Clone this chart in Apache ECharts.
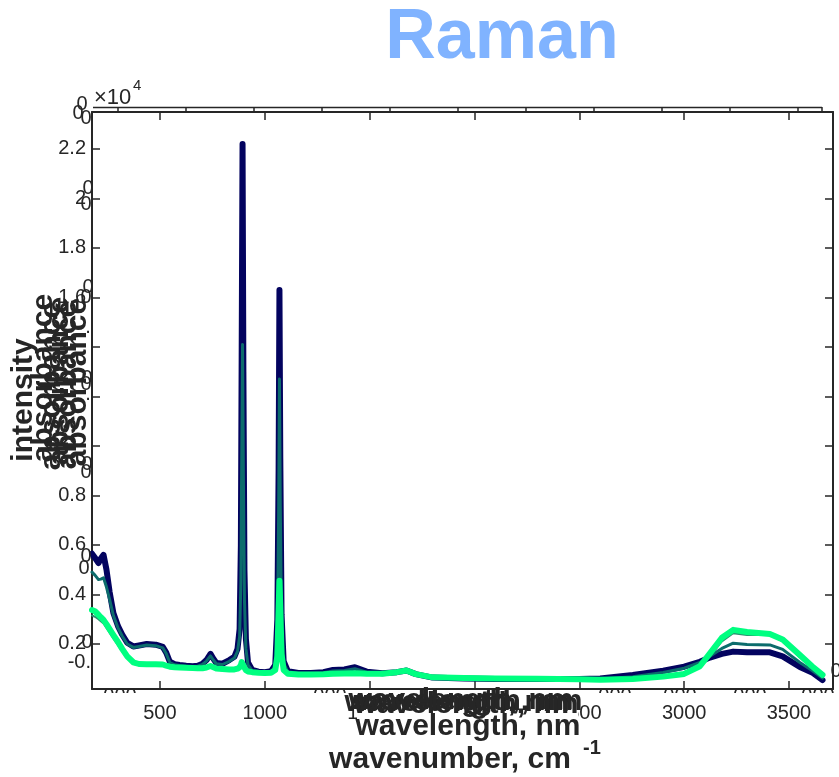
<!DOCTYPE html>
<html><head><meta charset="utf-8">
<script src="https://cdn.jsdelivr.net/npm/echarts@6/dist/echarts.min.js"></script>
<style>html,body{margin:0;padding:0;background:#fff}#c{width:839px;height:777px}</style>
</head><body><div id="c"></div>
<script>
// ---- data (wavenumber in cm^-1, intensity in counts) ----
const wavenumber = [176, 190, 207, 218, 231, 245, 260, 278, 300, 320,
  344, 373, 400, 437, 480, 514, 530, 547, 570, 594,
  625, 656, 680, 703, 722, 741, 755, 769, 798, 831,
  855, 870, 880, 886, 890, 894, 898, 903, 910, 920,
  940, 970, 1000, 1030, 1050, 1060, 1066, 1070, 1074, 1080,
  1090, 1110, 1160, 1220, 1280, 1325, 1380, 1430, 1486, 1560,
  1630, 1676, 1720, 1800, 1950, 2100, 2300, 2500, 2600, 2755,
  2900, 3000, 3075, 3123, 3180, 3234, 3300, 3409, 3470, 3552,
  3610, 3660];
const intensity1 = [5650, 5480, 5270, 5450, 5600, 5000, 4100, 3250, 2720, 2380,
  2050, 1900, 1940, 2000, 1970, 1880, 1650, 1280, 1180, 1150,
  1120, 1100, 1120, 1200, 1350, 1600, 1400, 1230, 1200, 1350,
  1480, 1800, 2600, 6000, 14000, 22200, 13000, 5000, 2200, 1250,
  950, 880, 860, 900, 1150, 3000, 9000, 16300, 9500, 3200,
  1300, 900, 830, 830, 860, 950, 970, 1060, 880, 820,
  860, 930, 780, 640, 600, 580, 580, 580, 600, 750,
  920, 1080, 1280, 1450, 1600, 1690, 1660, 1660, 1500, 1070,
  850, 540];
const intensity2 = [4900, 4780, 4600, 4620, 4670, 4300, 3800, 3150, 2650, 2320,
  2000, 1860, 1900, 1960, 1930, 1840, 1610, 1250, 1160, 1130,
  1100, 1080, 1100, 1170, 1310, 1520, 1350, 1200, 1170, 1300,
  1430, 1700, 2300, 4500, 9500, 14100, 8800, 3800, 1800, 1150,
  920, 860, 840, 880, 1080, 2500, 7200, 12700, 7600, 2700,
  1200, 880, 820, 820, 840, 910, 930, 1000, 860, 810,
  850, 920, 770, 630, 590, 580, 580, 570, 580, 680,
  850, 1020, 1250, 1500, 1820, 2030, 1980, 1960, 1780, 1250,
  930, 620];
const intensity3 = [3150, 3100, 3000, 2920, 2830, 2650, 2450, 2220, 1950, 1700,
  1420, 1200, 1140, 1130, 1130, 1130, 1080, 1030, 1010, 1000,
  990, 980, 970, 970, 1000, 1060, 1010, 960, 940, 920,
  920, 950, 1000, 1100, 1220, 1280, 1180, 1000, 900, 850,
  820, 800, 790, 800, 900, 1400, 3300, 4400, 3400, 1500,
  900, 760, 730, 730, 740, 760, 770, 780, 760, 760,
  820, 890, 740, 610, 580, 570, 560, 540, 520, 550,
  650, 760, 1050, 1500, 2100, 2430, 2360, 2360, 2100, 1450,
  1050, 700];
const intensity4 = [3370, 3320, 3180, 3080, 2970, 2800, 2600, 2360, 2080, 1800,
  1500, 1260, 1190, 1180, 1180, 1170, 1120, 1080, 1060, 1050,
  1040, 1030, 1020, 1020, 1050, 1110, 1060, 1010, 990, 970,
  970, 1000, 1060, 1150, 1270, 1330, 1230, 1050, 940, 890,
  860, 840, 830, 840, 950, 1500, 3400, 4550, 3500, 1600,
  950, 800, 770, 770, 780, 800, 810, 820, 800, 800,
  860, 930, 780, 650, 620, 600, 590, 570, 550, 580,
  680, 790, 1100, 1620, 2250, 2570, 2480, 2400, 2180, 1550,
  1100, 750];
const xTicks = [500, 1000, 1500, 2000, 2500, 3000, 3500];
const yTicks = [2000, 4000, 6000, 8000, 10000, 12000, 14000, 16000, 18000, 20000, 22000];
const hiddenYLabels = [10000, 12000, 14000];

// ---- styling ----
const F = '"Liberation Sans", Arial, Helvetica, sans-serif';
const INK = '#262626';
const X0 = 92, X1 = 833, Y0 = 112, Y1 = 689;

const chart = echarts.init(document.getElementById('c'), null, {renderer: 'canvas'});

function axisCommon() {
  return {
    axisLine: {show: true, onZero: false, lineStyle: {color: INK, width: 2}},
    splitLine: {show: false},
  };
}
const seriesDefs = [
  {name: 'spectrum 1', values: intensity1, color: '#03035f', width: 6},
  {name: 'spectrum 2', values: intensity2, color: '#0c6c6c', width: 3},
  {name: 'spectrum 3', values: intensity3, color: '#2a9270', width: 2},
  {name: 'spectrum 4', values: intensity4, color: '#00ff80', width: 6},
];

const g = [];
function txt(text, x, y, size, opts = {}) {
  g.push({
    type: 'text', x, y, z: opts.z || 110, rotation: opts.rot || 0,
    style: {text, font: (opts.bold ? 'bold ' : '') + size + 'px ' + F, fill: opts.fill || INK,
      align: opts.align || 'center', verticalAlign: 'middle', textAlign: opts.align || 'center', textVerticalAlign: 'middle'}
  });
}
function rect(x, y, w, h, z) {
  g.push({type: 'rect', z: z || 105, shape: {x, y, width: w, height: h}, style: {fill: '#fff'}});
}
function line(x1, y1, x2, y2, w) {
  g.push({type: 'line', z: 110, shape: {x1, y1, x2, y2}, style: {stroke: INK, lineWidth: w || 1.5}});
}

// title
txt('Raman', 502, 39, 70, {bold: true, fill: '#80b3ff'});
// exponent
txt('\u00d710', 94, 98, 22, {align: 'left'});
txt('4', 133, 86, 15, {align: 'left'});
// top band of the overlaid axes
line(93, 107.5, 822, 107.5, 1.5);
for (let x = 118; x <= 800; x += 68) line(x, 107, x, 112, 1.5);
line(822, 107, 822, 112, 1.5);
// overlapping zero fragments (other axes)
[[82, 104], [78, 113], [86, 118], [88, 188], [86, 204], [88, 287], [86, 297],
 [87, 378], [86, 384], [87, 464], [86, 472], [86, 556], [84, 568], [87, 642], [836, 671]].forEach(p => txt('0', p[0], p[1], 20));
txt('-0.', 91, 662, 20, {align: 'right'});
txt('.', 88, 327, 20); txt('.', 88, 394, 20);
// bottom fragments (tops of hidden labels)
[[120, 696], [330, 696], [615, 696], [680, 696], [750, 696], [818, 696]].forEach(p => {
  txt('000', p[0], p[1], 20, {z: 104});
  rect(p[0] - 20, 693, 40, 9, 105);
});
// y labels
txt('intensity', 24, 400, 30, {bold: true, rot: Math.PI / 2});
[[44, 378], [52, 386], [60, 381], [68, 385], [78, 382]].forEach(p => txt('absorbance', p[0], p[1], 30, {bold: true, rot: Math.PI / 2}));
// x labels
rect(357, 697, 221, 27, 105);
[[457, 703], [461, 701], [466, 705], [470, 702]].forEach(p => txt('wavelength, nm', p[0], p[1], 30, {bold: true}));
txt('wavelength, nm', 468, 727, 30, {bold: true});
txt('wavenumber, cm', 450, 760, 30, {bold: true});
txt('-1', 592, 748, 20, {bold: true});

const option = {
  animation: false,
  backgroundColor: '#ffffff',
  grid: {left: X0, top: Y0, width: X1 - X0, height: Y1 - Y0, containLabel: false},
  xAxis: [
    Object.assign(axisCommon(), {
      type: 'value', min: 176, max: 3710, position: 'bottom',
      axisTick: {show: true, inside: true, length: 8, customValues: xTicks, lineStyle: {color: INK, width: 1.5}},
      axisLabel: {show: true, customValues: xTicks, color: INK, fontSize: 20, fontFamily: F, margin: 14,
        formatter: v => String(v)}
    }),
    Object.assign(axisCommon(), {
      type: 'value', min: 176, max: 3710, position: 'top',
      axisTick: {show: true, inside: true, length: 8, customValues: xTicks, lineStyle: {color: INK, width: 1.5}},
      axisLabel: {show: false}
    })
  ],
  yAxis: [
    Object.assign(axisCommon(), {
      type: 'value', min: 180, max: 23490, position: 'left',
      axisTick: {show: true, inside: true, length: 8, customValues: yTicks, lineStyle: {color: INK, width: 1.5}},
      axisLabel: {show: true, customValues: yTicks, color: INK, fontSize: 20, fontFamily: F, margin: 6,
        formatter: v => hiddenYLabels.includes(v) ? '' : String(+(v / 10000).toFixed(1))}
    }),
    Object.assign(axisCommon(), {
      type: 'value', min: 180, max: 23490, position: 'right',
      axisTick: {show: true, inside: true, length: 8, customValues: yTicks, lineStyle: {color: INK, width: 1.5}},
      axisLabel: {show: false}
    })
  ],
  series: seriesDefs.map((s, i) => ({
    name: s.name, type: 'line', xAxisIndex: 0, yAxisIndex: 0, z: 2 + i,
    showSymbol: false, symbol: 'none',
    data: wavenumber.map((w, k) => [w, s.values[k]]),
    lineStyle: {color: s.color, width: s.width, join: 'round', cap: 'round'},
    emphasis: {disabled: true}
  })),
  graphic: {elements: g}
};
chart.setOption(option);
</script></body></html>
